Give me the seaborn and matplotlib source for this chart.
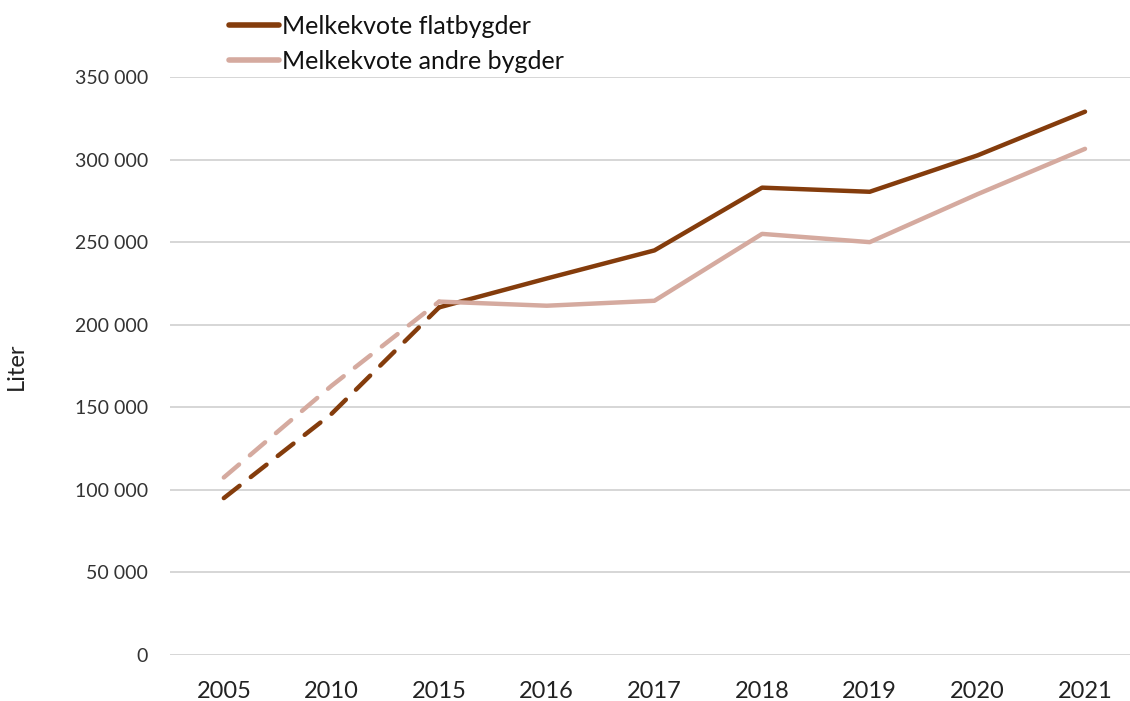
import matplotlib
matplotlib.use("Agg")
import matplotlib.pyplot as plt
import seaborn as sns
import pandas as pd
from matplotlib.lines import Line2D
from matplotlib.ticker import FuncFormatter

years = ["2005", "2010", "2015", "2016", "2017", "2018", "2019", "2020", "2021"]
flatbygder = [95000, 146000, 210500, 228000, 245000, 283000, 280500, 302500, 329000]
andre_bygder = [107500, 163000, 214000, 211500, 214500, 255000, 250000, 279000, 306500]
series_names = ["Melkekvote flatbygder", "Melkekvote andre bygder"]
colors = ["#843C0C", "#D5AA9F"]
dash_end = 2  # 2005-2015 dashed

sns.set_theme(style="white")
plt.rcParams['font.family'] = ['Lato', 'DejaVu Sans']

fig = plt.figure(figsize=(11.3, 7.01), dpi=100)
ax = fig.add_axes([170/1130, 46/701, 960/1130, (655-77)/701])

pos = list(range(len(years)))
for vals, name, col in zip([flatbygder, andre_bygder], series_names, colors):
    df_d = pd.DataFrame({"x": pos[:dash_end+1], "y": vals[:dash_end+1]})
    df_s = pd.DataFrame({"x": pos[dash_end:], "y": vals[dash_end:]})
    sns.lineplot(data=df_d, x="x", y="y", ax=ax, color=col, linewidth=3.2,
                 linestyle=(0, (4.5, 3.2)), solid_capstyle="round", dash_capstyle="round")
    sns.lineplot(data=df_s, x="x", y="y", ax=ax, color=col, linewidth=3.2,
                 solid_capstyle="round", solid_joinstyle="round")

ax.set_ylim(0, 350000)
ax.set_yticks(range(0, 350001, 50000))
ax.yaxis.set_major_formatter(FuncFormatter(lambda v, p: f"{int(v):,}".replace(",", " ")))
ax.set_xlim(-0.5, 8 + 45/107.7)
ax.set_xticks(pos)
ax.set_xticklabels(years)
ax.grid(axis="y", color="#D0D0D0", linewidth=1.2)
ax.grid(axis="x", visible=False)
for s in ax.spines.values():
    s.set_visible(False)
ax.tick_params(axis="y", length=0, pad=16, labelsize=14, labelcolor="#333333")
ax.tick_params(axis="x", length=0, pad=19, labelsize=17, labelcolor="#222222")
ax.set_xlabel("")
ax.set_ylabel("Liter", fontsize=17, color="#222222", labelpad=34)

handles = [Line2D([], [], color=c, linewidth=4, solid_capstyle="round") for c in colors]
fig.legend(handles, series_names, loc="upper left", bbox_to_anchor=(206/1130, 1 + 8/701),
           frameon=False, fontsize=18, handlelength=2.0, handletextpad=0.15,
           labelspacing=0.5, labelcolor="#111111")

fig.savefig("out.png", dpi=100)
